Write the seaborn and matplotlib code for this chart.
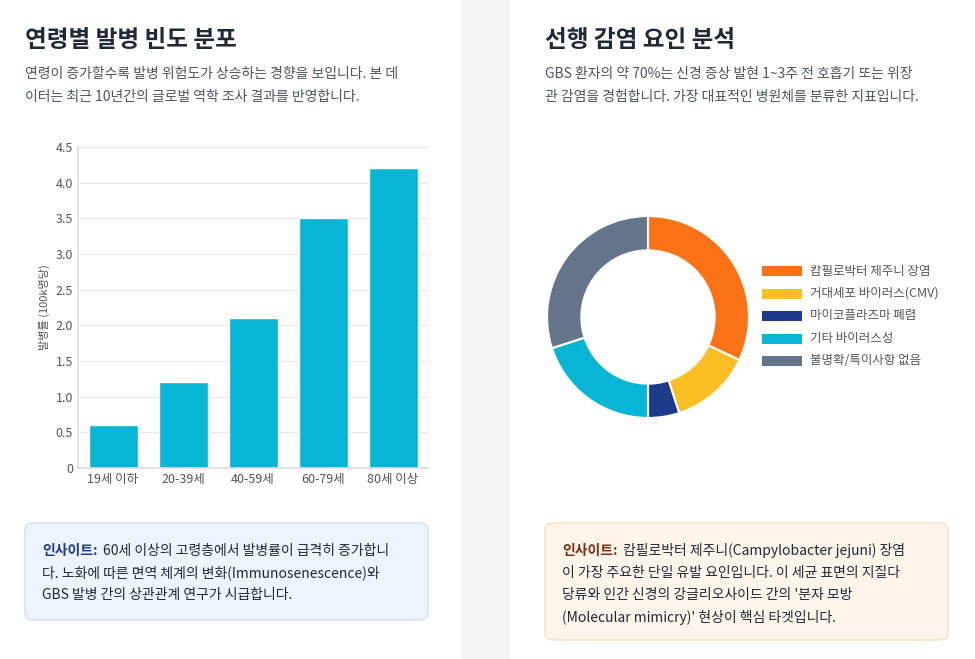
import matplotlib
matplotlib.use('Agg')
import matplotlib.pyplot as plt
import seaborn as sns
import pandas as pd
from matplotlib.patches import FancyBboxPatch, Rectangle

sns.set_theme(style='white')
plt.rcParams['font.family'] = ['Noto Sans CJK KR', 'DejaVu Sans']

# data
age_groups = ['19세 이하', '20-39세', '40-59세', '60-79세', '80세 이상']
incidence = [0.6, 1.2, 2.1, 3.5, 4.2]
infections = ['캄필로박터 제주니 장염', '거대세포 바이러스(CMV)', '마이코플라즈마 폐렴', '기타 바이러스성', '불명확/특이사항 없음']
shares = [32, 13, 5, 20, 30]
pie_colors = ['#f97316', '#fbbf24', '#1e3a8a', '#06b6d4', '#64748b']

W, H = 975, 659
fig = plt.figure(figsize=(9.75, 6.59), dpi=100)
fig.patch.set_facecolor('white')

def fx(x): return x / W
def fy(y): return 1 - y / H

# gray gap between cards
fig.patches.append(Rectangle((fx(461), 0), fx(49), 1, transform=fig.transFigure,
                             facecolor='#f3f5f9', edgecolor='none', zorder=0))

dark = '#1f2937'
body = '#4b5563'

# left card text
fig.text(fx(25), fy(40), '연령별 발병 빈도 분포', fontsize=17, fontweight='bold', color=dark, va='center')
fig.text(fx(25), fy(74), '연령이 증가할수록 발병 위험도가 상승하는 경향을 보입니다. 본 데', fontsize=10, color=body, va='center')
fig.text(fx(25), fy(97), '이터는 최근 10년간의 글로벌 역학 조사 결과를 반영합니다.', fontsize=10, color=body, va='center')

# right card text
fig.text(fx(545), fy(40), '선행 감염 요인 분석', fontsize=17, fontweight='bold', color=dark, va='center')
fig.text(fx(545), fy(74), 'GBS 환자의 약 70%는 신경 증상 발현 1~3주 전 호흡기 또는 위장', fontsize=10, color=body, va='center')
fig.text(fx(545), fy(97), '관 감염을 경험합니다. 가장 대표적인 병원체를 분류한 지표입니다.', fontsize=10, color=body, va='center')

# bar chart
ax = fig.add_axes([fx(78), fy(468), fx(428 - 78), fy(147) - fy(468)])
df = pd.DataFrame({'age': age_groups, 'rate': incidence})
sns.barplot(data=df, x='age', y='rate', color='#06b6d4', width=0.7, ax=ax, saturation=1)
ax.set_ylim(0, 4.5)
ax.set_yticks([0, 0.5, 1, 1.5, 2, 2.5, 3, 3.5, 4, 4.5])
ax.set_yticklabels(['0', '0.5', '1.0', '1.5', '2.0', '2.5', '3.0', '3.5', '4.0', '4.5'])
ax.set_xlabel('')
ax.set_ylabel('발병률 (100k명당)', fontsize=8, color='#555555')
ax.tick_params(labelsize=9, colors='#555555', length=0)
ax.grid(axis='y', color='#e5e7eb', lw=0.8)
ax.set_axisbelow(True)
for s in ['top', 'right']:
    ax.spines[s].set_visible(False)
for s in ['left', 'bottom']:
    ax.spines[s].set_color('#dddddd')

# donut chart
r = 102
pax = fig.add_axes([fx(648 - r), fy(317 + r), fx(2 * r), fy(317 - r) - fy(317 + r)])
pax.pie(shares, colors=pie_colors, startangle=90, counterclock=False,
        wedgeprops=dict(width=0.34, edgecolor='white', linewidth=1.5))
pax.set_xlim(-1.01, 1.01)
pax.set_ylim(-1.01, 1.01)
pax.set_aspect('equal')

# legend
for i, (lab, c) in enumerate(zip(infections, pie_colors)):
    yy = 271 + i * 22.5
    fig.patches.append(Rectangle((fx(762), fy(yy + 5)), fx(40), fy(yy - 5) - fy(yy + 5),
                                 transform=fig.transFigure, facecolor=c, edgecolor='none'))
    fig.text(fx(810), fy(yy), lab, fontsize=9, color='#555555', va='center')

# insight boxes
def box(x0, y0, x1, y1, fc, ec):
    fig.patches.append(FancyBboxPatch((fx(x0), fy(y1)), fx(x1 - x0), fy(y0) - fy(y1),
                                      boxstyle='round,pad=0,rounding_size=0.01',
                                      transform=fig.transFigure, facecolor=fc, edgecolor=ec, lw=1))

box(25, 523, 428, 620, '#eef4fd', '#cfe0f7')
box(545, 523, 948, 640, '#fdf5ea', '#f6dfbf')

lines_l = ['60세 이상의 고령층에서 발병률이 급격히 증가합니',
           '다. 노화에 따른 면역 체계의 변화(Immunosenescence)와',
           'GBS 발병 간의 상관관계 연구가 시급합니다.']
fig.text(fx(42), fy(551), '인사이트:', fontsize=10, fontweight='bold', color='#1e3a8a', va='center')
fig.text(fx(103), fy(551), lines_l[0], fontsize=10, color='#1f2937', va='center')
fig.text(fx(42), fy(573), lines_l[1], fontsize=10, color='#1f2937', va='center')
fig.text(fx(42), fy(595), lines_l[2], fontsize=10, color='#1f2937', va='center')

lines_r = ['캄필로박터 제주니(Campylobacter jejuni) 장염',
           '이 가장 주요한 단일 유발 요인입니다. 이 세균 표면의 지질다',
           '당류와 인간 신경의 강글리오사이드 간의 \'분자 모방',
           '(Molecular mimicry)\' 현상이 핵심 타겟입니다.']
fig.text(fx(562), fy(551), '인사이트:', fontsize=10, fontweight='bold', color='#7c2d12', va='center')
fig.text(fx(623), fy(551), lines_r[0], fontsize=10, color='#1f2937', va='center')
for i, t in enumerate(lines_r[1:]):
    fig.text(fx(562), fy(573 + 22 * i), t, fontsize=10, color='#1f2937', va='center')

fig.savefig('out.png', dpi=100)
